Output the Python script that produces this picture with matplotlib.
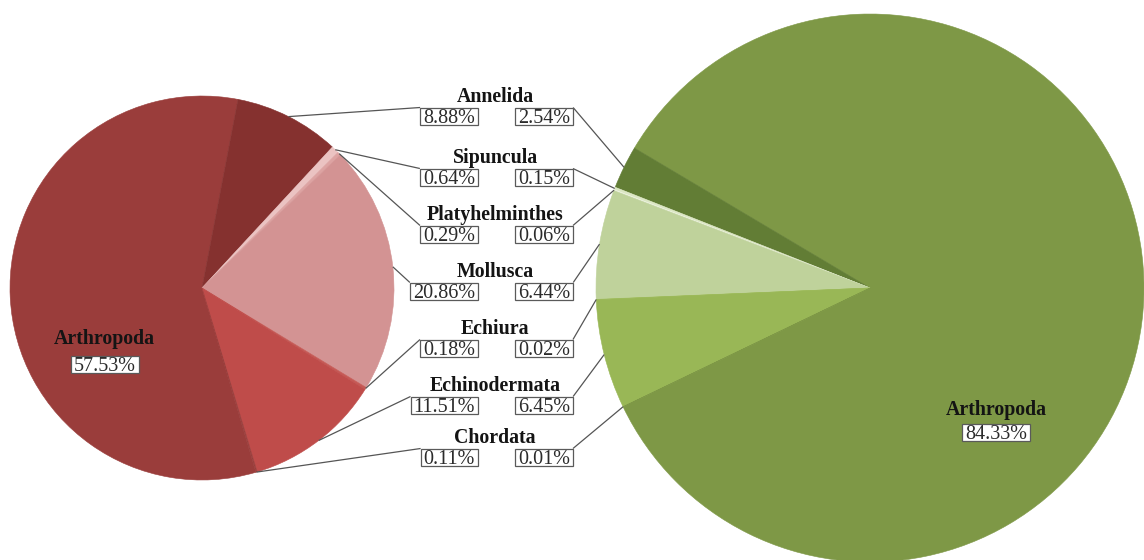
import matplotlib
matplotlib.use("Agg")
import matplotlib.pyplot as plt
from matplotlib.patches import Rectangle
import numpy as np

# Share of species (%) per phylum in the two assemblages
phyla = ["Arthropoda", "Annelida", "Sipuncula", "Platyhelminthes",
         "Mollusca", "Echiura", "Echinodermata", "Chordata"]
left_share = [57.53, 8.88, 0.64, 0.29, 20.86, 0.18, 11.51, 0.11]
right_share = [84.33, 2.54, 0.15, 0.06, 6.44, 0.02, 6.45, 0.01]

left_colors = ["#9A3D3B", "#85312F", "#EBC3C2", "#DDA3A2",
               "#D39393", "#C65955", "#BF4C4A", "#9A3D3B"]
right_colors = ["#7E9846", "#627D35", "#DCE7C4", "#EDF2E0",
                "#BFD29B", "#A9C46C", "#99B756", "#7E9846"]

W, H = 1144, 560
SERIF = ["Liberation Serif", "DejaVu Serif"]

fig = plt.figure(figsize=(W / 100, H / 100), dpi=100)
ax = fig.add_axes([0, 0, 1, 1])


def py(y):
    """Convert a top-down pixel row to the axes' upward y coordinate."""
    return H - y


L_CENTER, L_R = (202, py(288)), 192
R_CENTER, R_R = (870, py(288)), 274

left_wedges, _ = ax.pie(left_share, colors=left_colors, startangle=-73.7,
                        counterclock=False, center=L_CENTER, radius=L_R)
right_wedges, _ = ax.pie(right_share, colors=right_colors, startangle=205.7,
                         counterclock=True, center=R_CENTER, radius=R_R)
for w in list(left_wedges) + list(right_wedges):
    w.set_edgecolor(w.get_facecolor())
    w.set_linewidth(0.4)

ax.set_xlim(0, W)
ax.set_ylim(0, H)
ax.set_aspect("equal")
ax.axis("off")

NAME_FS = 14.3
PCT_FS = 14.5
name_px = NAME_FS * 100 / 72
pct_px = PCT_FS * 100 / 72
NAME_CAP = 0.65 * name_px
PCT_DIG = 0.676 * pct_px
BOX_H = 17
LINE_C = "#555555"


def name_text(x, yc, s):
    return ax.text(x, py(yc) - NAME_CAP / 2, s, ha="center", va="baseline",
                   fontsize=NAME_FS, fontweight="bold", family=SERIF,
                   color="#141414", zorder=5)


def pct_text(x, yc, s, ha):
    return ax.text(x, py(yc) - PCT_DIG / 2, s, ha=ha, va="baseline",
                   fontsize=PCT_FS, family=SERIF, color="#2b2b2b", zorder=6)


def fmt(v):
    return f"{v:.2f}%"


# Middle column: phylum names with the two percentage boxes
name_rows = [96, 157, 214, 271, 328, 385, 437]
NAME_X = 495
LEFT_BOX_RIGHT = 478
RIGHT_BOX_LEFT = 515
PAD = 3

pct_items = []  # (text, yc, side, wedge)
for i, row in enumerate(name_rows):
    k = i + 1
    name_text(NAME_X, row, phyla[k])
    yc = row + 20
    tl = pct_text(LEFT_BOX_RIGHT - PAD, yc, fmt(left_share[k]), "right")
    tr = pct_text(RIGHT_BOX_LEFT + PAD, yc, fmt(right_share[k]), "left")
    pct_items.append((tl, yc, "L", left_wedges[k]))
    pct_items.append((tr, yc, "R", right_wedges[k]))

# Labels for the dominant phylum inside each pie
name_text(104.5, 338, phyla[0])
t_in_l = pct_text(105, 364.5, fmt(left_share[0]), "center")
name_text(996, 409, phyla[0])
t_in_r = pct_text(996, 432, fmt(right_share[0]), "center")

fig.canvas.draw()
renderer = fig.canvas.get_renderer()
inv = ax.transData.inverted()


def box_for(t, yc):
    bb = t.get_window_extent(renderer)
    (x0, _), (x1, _) = inv.transform([[bb.x0, bb.y0], [bb.x1, bb.y1]])
    x0 -= PAD
    x1 += PAD
    y0 = py(yc) - BOX_H / 2
    ax.add_patch(Rectangle((x0, y0), x1 - x0, BOX_H, facecolor="white",
                           edgecolor="#5a5a5a", linewidth=0.9, zorder=4))
    return x0, x1, y0 + BOX_H


def edge_point(wedge):
    mid = np.deg2rad((wedge.theta1 + wedge.theta2) / 2)
    cx, cy = wedge.center
    r = wedge.r
    return cx + r * np.cos(mid), cy + r * np.sin(mid)


for t, yc, side, wedge in pct_items:
    x0, x1, top = box_for(t, yc)
    px, pyy = edge_point(wedge)
    if side == "L":
        ax.plot([px, x0], [pyy, top], color=LINE_C, lw=0.9, zorder=3,
                solid_capstyle="butt")
    else:
        ax.plot([x1, px], [top, pyy], color=LINE_C, lw=0.9, zorder=3,
                solid_capstyle="butt")

box_for(t_in_l, 364.5)
box_for(t_in_r, 432)

fig.savefig("out.png", dpi=100, facecolor="white")
